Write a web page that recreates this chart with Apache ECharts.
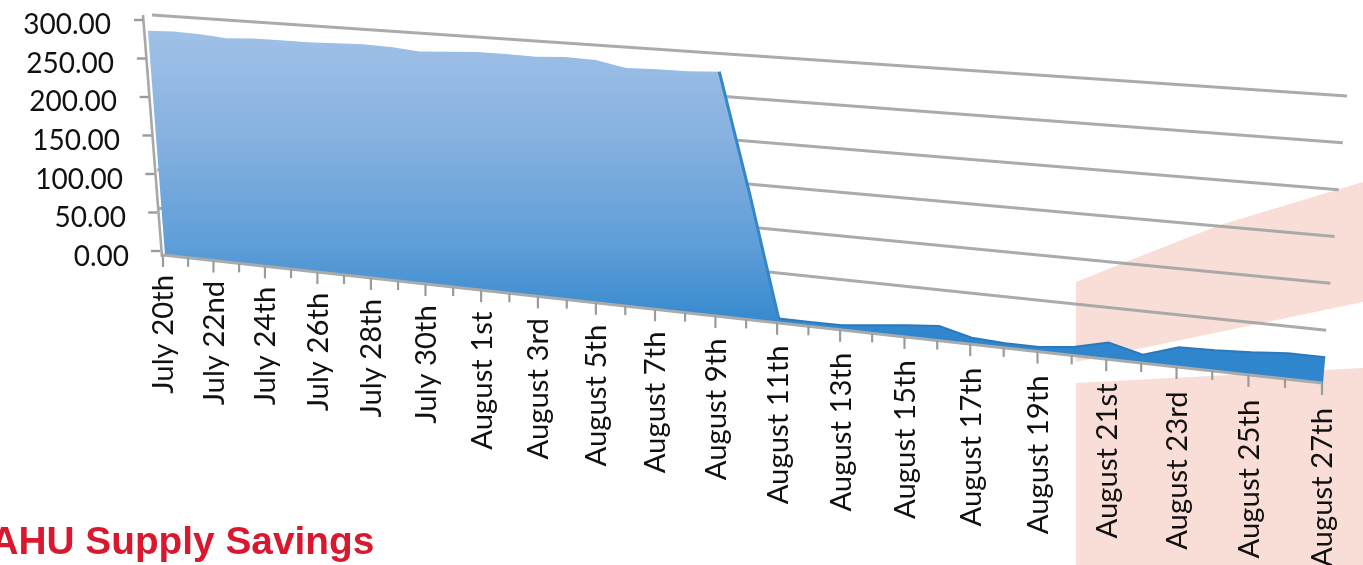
<!DOCTYPE html>
<html>
<head>
<meta charset="utf-8">
<style>
  html, body { margin: 0; padding: 0; background: #fff; }
  #chart { width: 1363px; height: 565px; }
</style>
<script src="https://cdn.jsdelivr.net/npm/echarts@6/dist/echarts.min.js"></script>
</head>
<body>
<div id="chart"></div>
<script>
const days = [
  'July 20th','July 21st','July 22nd','July 23rd','July 24th','July 25th','July 26th','July 27th',
  'July 28th','July 29th','July 30th','July 31st','August 1st','August 2nd','August 3rd','August 4th',
  'August 5th','August 6th','August 7th','August 8th','August 9th','August 10th','August 11th','August 12th',
  'August 13th','August 14th','August 15th','August 16th','August 17th','August 18th','August 19th','August 20th',
  'August 21st','August 22nd','August 23rd','August 24th','August 25th','August 26th','August 27th'
];
const savings = [
  284, 285, 284, 281, 283, 283, 283, 284,
  285, 284, 281, 283, 285, 285, 284, 286,
  285, 278, 279, 279, 281, 145, 5, 5,
  5, 9, 13, 16, 7, 5, 5, 9,
  18, 9, 21, 22, 24, 27, 27
];
const valueTicks = [0, 50, 100, 150, 200, 250, 300];
const chartTitle = 'AHU Supply Savings';

const chart = echarts.init(document.getElementById('chart'));

// The plot is a tilted 3D-style frame: the axes give normalised positions,
// and these helpers carry them onto the slanted front plane and back wall.
const perspective = 1.22;
const warp = t => t / (t + perspective * (1 - t));
const lerp = (a, b, f) => a + (b - a) * f;

function normalised(params, api, i, value) {
  const p = api.coord([i, value]);
  const r = params.coordSys;
  return { t: (p[0] - r.x) / r.width, v: (r.y + r.height - p[1]) / r.height };
}
function front(u, v) {
  return [lerp(165 - 18 * v, 1323 + 25 * v, u), lerp(255 - 237 * v, 383 - 287 * v, u)];
}
function wall(u, v) {
  return [lerp(160 - 8 * v, 1322 + 25 * v, u), lerp(247 - 232 * v, 377 - 281 * v, u)];
}
const axisBase = u => [163 + 1159 * u, 255 + 128 * u];

const gridColor = '#a0a3a3';
const tickColor = '#9a9c9c';
const textColor = '#111111';
const numberFont = 'Lato, Carlito, "Open Sans", sans-serif';

const option = {
  animation: false,
  backgroundColor: '#ffffff',
  title: {
    text: chartTitle,
    left: -14.5,
    top: 519,
    textStyle: { color: '#d9182f', fontFamily: '"Liberation Sans", Arial, sans-serif', fontWeight: 'bold', fontSize: 38.8 }
  },
  grid: { left: 0, right: 0, top: 0, bottom: 0 },
  xAxis: { type: 'category', data: days, boundaryGap: false, show: false },
  yAxis: { type: 'value', min: 0, max: 300, interval: 50, show: false },
  graphic: [
    { type: 'polygon', z: 0, shape: { points: [[1076, 282], [1123, 263], [1220, 225], [1363, 182], [1363, 302], [1133, 350], [1076, 362]] }, style: { fill: '#f9ded7' } },
    { type: 'polygon', z: 0, shape: { points: [[1076, 383], [1363, 368], [1363, 565], [1076, 565]] }, style: { fill: '#f9ded7' } }
  ],
  series: [
    {
      // back-wall gridlines
      name: 'Gridlines',
      type: 'custom',
      z: 3,
      silent: true,
      clip: false,
      data: valueTicks.filter(v => v > 0).map(v => [0, v]),
      encode: { x: 0, y: 1 },
      renderItem(params, api) {
        const n = normalised(params, api, 0, api.value(1));
        const a = wall(0, n.v), b = wall(1, n.v);
        return { type: 'line', shape: { x1: a[0], y1: a[1], x2: b[0], y2: b[1] }, style: { stroke: gridColor, lineWidth: 3, opacity: 0.9 } };
      }
    },
    {
      name: 'Savings',
      type: 'custom',
      z: 5,
      silent: true,
      clip: false,
      data: savings.map((v, i) => [i, v]),
      encode: { x: 0, y: 1 },
      renderItem(params, api) {
        if (params.dataIndex !== 0) return null;
        const top = savings.map((val, i) => {
          const n = normalised(params, api, i, val);
          return front(warp(n.t), n.v);
        });
        const points = top.concat([front(1, 0), front(0, 0)]);
        return {
          type: 'group',
          children: [
            {
              type: 'polygon',
              shape: { points },
              style: {
                fill: new echarts.graphic.LinearGradient(0, 30, 0, 335, [
                  { offset: 0, color: '#a0c1e7' },
                  { offset: 0.35, color: '#86b1e0' },
                  { offset: 0.7, color: '#5f9ed8' },
                  { offset: 1, color: '#2f86cd' }
                ], true)
              }
            },
            {
              type: 'polyline',
              shape: { points: top.slice(20, 23) },
              style: { fill: 'none', stroke: '#3486c6', lineWidth: 3 }
            },
            {
              type: 'polyline',
              shape: { points: top.slice(22) },
              style: { fill: 'none', stroke: '#2b79bb', lineWidth: 2 }
            }
          ]
        };
      }
    },
    {
      // slanted value axis with its ticks and labels
      name: 'Value axis',
      type: 'custom',
      z: 6,
      silent: true,
      clip: false,
      data: valueTicks.map(v => [0, v]),
      encode: { x: 0, y: 1 },
      renderItem(params, api) {
        const value = api.value(1);
        const n = normalised(params, api, 0, value);
        const x = 160 - 17 * n.v, y = 251 - 231 * n.v;
        const children = [
          { type: 'line', shape: { x1: x - 9, y1: y, x2: x, y2: y }, style: { stroke: tickColor, lineWidth: 2.4 } },
          {
            type: 'text', x: 129 - 18 * n.v, y: 257 - 232 * n.v,
            style: { text: value.toFixed(2), align: 'right', verticalAlign: 'middle', fontFamily: numberFont, fontSize: 28, fill: textColor }
          }
        ];
        if (params.dataIndex === 0) {
          children.push({ type: 'line', shape: { x1: 162, y1: 257, x2: 143, y2: 15 }, style: { stroke: '#a6a8a8', lineWidth: 2.6 } });
        }
        return { type: 'group', children };
      }
    },
    {
      // date axis running along the foot of the area
      name: 'Date axis',
      type: 'custom',
      z: 6,
      silent: true,
      clip: false,
      data: days.map((d, i) => [i, 0]),
      encode: { x: 0, y: 1 },
      renderItem(params, api) {
        const i = params.dataIndex;
        const u = warp(normalised(params, api, i, 0).t);
        const p = axisBase(u);
        const children = [
          { type: 'line', shape: { x1: p[0], y1: p[1], x2: p[0], y2: p[1] + (i % 2 ? 9 : 12) }, style: { stroke: tickColor, lineWidth: 2.2 } }
        ];
        if (i === 0) {
          const a = axisBase(0), b = axisBase(1);
          children.push({ type: 'line', shape: { x1: a[0], y1: a[1], x2: b[0], y2: b[1] }, style: { stroke: '#a9abab', lineWidth: 3 } });
        }
        if (i % 2 === 0) {
          children.push({
            type: 'text', x: p[0] + 1, y: p[1] + 20 + 5 * u, rotation: Math.PI / 2,
            style: { text: days[i], align: 'right', verticalAlign: 'middle', fontFamily: numberFont, fontSize: 29.3, fill: textColor }
          });
        }
        return { type: 'group', children };
      }
    }
  ]
};

chart.setOption(option);
</script>
</body>
</html>
